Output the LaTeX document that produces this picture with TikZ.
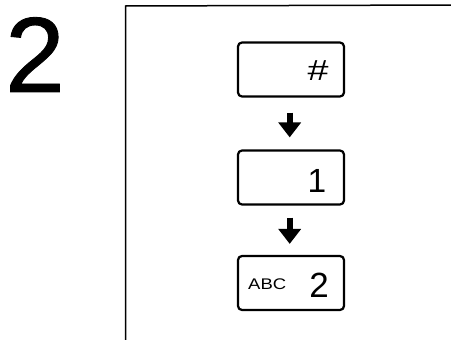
\documentclass[tikz,border=0pt]{standalone}
\usepackage{fontspec}
\setmainfont{Liberation Sans}
\newfontfamily\heavyfont[FakeBold=0.8]{Liberation Sans}
\usetikzlibrary{arrows.meta}
\begin{document}
\begin{tikzpicture}[x=1pt,y=-1pt,
  keybox/.style={draw=black,line width=2.2pt,rounded corners=4pt,minimum width=106pt,minimum height=54pt,inner sep=0pt},
  flowarrow/.style={line width=6pt,-{Triangle[width=22pt,length=15pt]}},
  frameline/.style={line width=1.5pt,line cap=rect},
  lbl/.style={inner sep=0pt}]
\useasboundingbox (0,0) rectangle (451,340);
\fill[white] (0,0) rectangle (451,340);
% big step number
\node[lbl,anchor=base west,font=\heavyfont\fontsize{107}{107}\selectfont] (step) at (5,92) {2};
% frame
\coordinate (ftl) at (125.5,6);
\coordinate (fbl) at (125.5,341);
\coordinate (ftr) at (452,5);
\draw[frameline] (fbl) -- (ftl) -- (ftr);
% keys
\node[keybox] (k1) at (291,69.5) {};
\node[keybox] (k2) at (291,177.5) {};
\node[keybox] (k3) at (291,283) {};
\node[lbl,anchor=base,font=\fontsize{29}{29}\selectfont] (hash) at (318,80) {\scalebox{1.3}[1]{\#}};
\node[lbl,anchor=base,font=\fontsize{33.5}{33.5}\selectfont] (one) at (317,192) {1};
\node[lbl,anchor=base,font=\fontsize{35}{35}\selectfont] (two) at (319,297) {2};
\node[lbl,anchor=base west,font=\fontsize{15.4}{15.4}\selectfont] (abc) at (248,289) {\scalebox{1.2}[1]{ABC}};
% arrows
\draw[flowarrow,shorten <=15pt,shorten >=12pt] ([xshift=-1.3pt]k1.south) -- ([xshift=-1.3pt]k2.north);
\draw[flowarrow,shorten <=12pt,shorten >=11pt] ([xshift=-1.3pt]k2.south) -- ([xshift=-1.3pt]k3.north);
\end{tikzpicture}
\end{document}
